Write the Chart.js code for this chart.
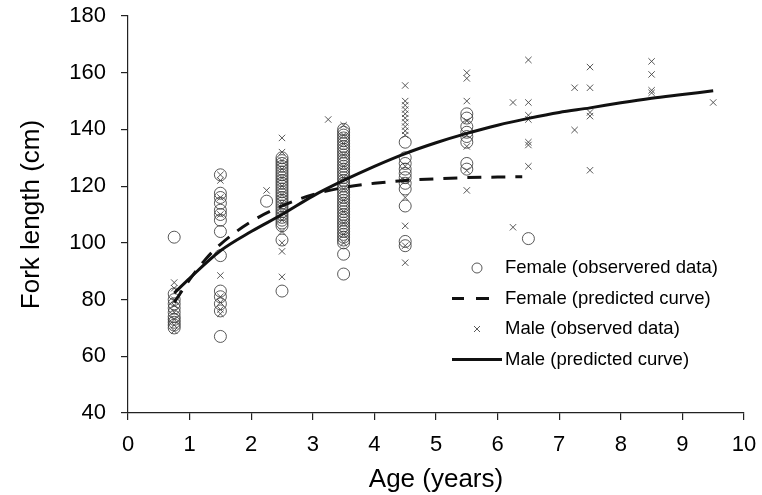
<!DOCTYPE html>
<html>
<head>
<meta charset="utf-8">
<script src="https://cdn.jsdelivr.net/npm/chart.js@4.4.0/dist/chart.umd.min.js"></script>
<style>
  html, body { margin: 0; padding: 0; background: #fff; }
  #wrap { width: 762px; height: 495px; }
</style>
</head>
<body>
<div id="wrap"><canvas id="c" width="762" height="495"></canvas></div>
<script>
// ---- Data ----
const xTicks = [0, 1, 2, 3, 4, 5, 6, 7, 8, 9, 10];
const yTicks = [40, 60, 80, 100, 120, 140, 160, 180];

const seriesLabels = [
  'Female (observered data)',
  'Female (predicted curve)',
  'Male (observed data)',
  'Male (predicted curve)'
];

// Female observed (age, fork length)
const femaleObsAge = [
  0.75,0.75,0.75,0.75,0.75,0.75,0.75,0.75,0.75,0.75,0.75,
  1.5,1.5,1.5,1.5,1.5,1.5,1.5,1.5,1.5,1.5,1.5,1.5,1.5,1.5,
  2.25,
  2.5,2.5,2.5,2.5,2.5,2.5,2.5,2.5,2.5,2.5,2.5,2.5,2.5,2.5,2.5,2.5,2.5,2.5,2.5,2.5,2.5,2.5,2.5,2.5,2.5,2.5,2.5,
  3.5,3.5,3.5,3.5,3.5,3.5,3.5,3.5,3.5,3.5,3.5,3.5,3.5,3.5,3.5,3.5,3.5,3.5,3.5,3.5,3.5,3.5,3.5,3.5,3.5,3.5,3.5,3.5,3.5,3.5,3.5,3.5,3.5,3.5,3.5,3.5,3.5,3.5,3.5,3.5,3.5,3.5,3.5,
  4.5,4.5,4.5,4.5,4.5,4.5,4.5,4.5,4.5,4.5,4.5,
  5.5,5.5,5.5,5.5,5.5,5.5,5.5,5.5,
  6.5
];
const femaleObsLen = [
  102,82,80,78.5,77,75.5,74,73,72,71,70,
  124,117.5,116,114,111.5,110,108,104,95.5,83,81,78.5,76,67,
  114.7,
  130,129,128,127,126,125,124,123,122,121,120,119,118,117,116,115,114,113,112,111,110,109,108,107,106,101,83,
  140,139,138,137,136,135,134,133,132,131,130,129,128,127,126,125,124,123,122,121,120,119,118,117,116,115,114,113,112,111,110,109,108,107,106,105,104,103,102,101,100,96,89,
  135.5,130,128,126,124.5,123,121,119,113,100.5,99,
  145.5,144,141,139,137.5,135.5,128,126,
  101.5
];

// Male observed (age, fork length)
const maleObsAge = [
  0.75,0.75,0.75,0.75,0.75,0.75,0.75,0.75,
  1.5,1.5,1.5,1.5,1.5,1.5,1.5,1.5,1.5,
  2.25,
  2.5,2.5,2.5,2.5,2.5,2.5,2.5,2.5,2.5,2.5,2.5,2.5,2.5,2.5,
  3.25,
  3.5,3.5,3.5,3.5,3.5,3.5,3.5,3.5,3.5,3.5,3.5,3.5,
  4.5,4.5,4.5,4.5,4.5,4.5,4.5,4.5,4.5,4.5,4.5,4.5,4.5,4.5,4.5,4.5,
  5.5,5.5,5.5,5.5,5.5,5.5,5.5,5.5,
  6.25,6.25,
  6.5,6.5,6.5,6.5,6.5,6.5,6.5,
  7.25,7.25,
  7.5,7.5,7.5,7.5,7.5,
  8.5,8.5,8.5,8.5,
  9.5
];
const maleObsLen = [
  86,84,80,78,75.5,73,71,69,
  124,122,116,110,88.5,81,79,76.5,75,
  118.5,
  137,132,129,126,123,120,117,114,111,108,104,100,97,88,
  143.5,
  141.5,138,135,131,127,123,119,115,111,107,103,100,
  155.5,150,148.5,147,145.5,144,142.5,141,139.5,138,127,122,116,106,99,93,
  160,158,150,143,138,134,125.5,118.5,
  149.5,105.5,
  164.5,149.5,145,143.5,135.5,134.5,127,
  154.7,139.8,
  162,154.7,146,144.7,125.6,
  164,159.4,153.8,152.9,
  149.5
];

// Predicted curves
const femaleCurveAge = [0.75, 1.0, 1.25, 1.5, 2.0, 2.5, 3.0, 3.5, 4.0, 4.5, 5.0, 5.5, 6.0, 6.4];
const femaleCurveLen = [79, 87, 94, 99.5, 107.5, 113, 117, 119.5, 121, 122, 122.6, 123, 123.2, 123.3];
const maleCurveAge = [0.75, 1.0, 1.5, 2.0, 2.5, 3.0, 3.5, 4.0, 4.5, 5.0, 5.5, 6.0, 6.5, 7.0, 7.5, 8.0, 8.5, 9.0, 9.5];
const maleCurveLen = [82.3, 87.5, 97.2, 104, 110, 116.5, 122, 127, 131.5, 135.3, 138.6, 141.5, 143.9, 146, 147.6, 149.4, 151, 152.3, 153.6];

// ---- Build datasets ----
const pts = (xs, ys) => xs.map((x, i) => ({ x: x, y: ys[i] }));

const datasets = [
  {
    label: seriesLabels[0],
    data: pts(femaleObsAge, femaleObsLen),
    showLine: false,
    pointStyle: 'circle',
    pointRadius: 6,
    pointBorderWidth: 1,
    pointBorderColor: 'rgba(60,60,60,0.85)',
    pointBackgroundColor: 'rgba(0,0,0,0)',
    order: 2,
    legendKind: 'circle'
  },
  {
    label: seriesLabels[1],
    data: pts(femaleCurveAge, femaleCurveLen),
    showLine: true,
    borderColor: '#111',
    borderWidth: 3,
    borderDash: [14, 10],
    pointRadius: 0,
    cubicInterpolationMode: 'monotone',
    order: 0,
    legendKind: 'dash'
  },
  {
    label: seriesLabels[2],
    data: pts(maleObsAge, maleObsLen),
    showLine: false,
    pointStyle: 'crossRot',
    pointRadius: 4.5,
    pointBorderWidth: 1,
    pointBorderColor: 'rgba(70,70,70,0.9)',
    pointBackgroundColor: 'rgba(0,0,0,0)',
    order: 1,
    legendKind: 'cross'
  },
  {
    label: seriesLabels[3],
    data: pts(maleCurveAge, maleCurveLen),
    showLine: true,
    borderColor: '#111',
    borderWidth: 3,
    pointRadius: 0,
    cubicInterpolationMode: 'monotone',
    order: 0,
    legendKind: 'solid'
  }
];

// ---- Custom in-plot legend ----
const inPlotLegend = {
  id: 'inPlotLegend',
  afterDraw(chart) {
    const ctx = chart.ctx;
    const ca = chart.chartArea;
    const symL = ca.left + 324;   // start of line symbols
    const symC = ca.left + 349;   // centre of marker symbols
    const textX = ca.left + 377;
    const rows = [ca.top + 252, ca.top + 282.5, ca.top + 313, ca.top + 343.5];
    ctx.save();
    ctx.font = '18.5px "Liberation Sans", Arial, sans-serif';
    ctx.fillStyle = '#000';
    ctx.textBaseline = 'middle';
    ctx.textAlign = 'left';
    chart.data.datasets.forEach((ds, i) => {
      const y = rows[i];
      ctx.save();
      if (ds.legendKind === 'circle') {
        ctx.strokeStyle = ds.pointBorderColor;
        ctx.lineWidth = 1;
        ctx.beginPath();
        ctx.arc(symC, y, 5, 0, Math.PI * 2);
        ctx.stroke();
      } else if (ds.legendKind === 'cross') {
        ctx.strokeStyle = ds.pointBorderColor;
        ctx.lineWidth = 1;
        const d = 3;
        ctx.beginPath();
        ctx.moveTo(symC - d, y - d); ctx.lineTo(symC + d, y + d);
        ctx.moveTo(symC + d, y - d); ctx.lineTo(symC - d, y + d);
        ctx.stroke();
      } else if (ds.legendKind === 'dash') {
        ctx.strokeStyle = ds.borderColor;
        ctx.lineWidth = 3;
        ctx.beginPath();
        ctx.moveTo(symL, y); ctx.lineTo(symL + 12, y);
        ctx.moveTo(symL + 24, y); ctx.lineTo(symL + 37, y);
        ctx.stroke();
      } else if (ds.legendKind === 'solid') {
        ctx.strokeStyle = ds.borderColor;
        ctx.lineWidth = 3;
        ctx.beginPath();
        ctx.moveTo(symL, y); ctx.lineTo(symL + 50, y);
        ctx.stroke();
      }
      ctx.restore();
      ctx.fillText(ds.label, textX, y);
    });
    ctx.restore();
  }
};

const tickFont = { family: '"Liberation Sans", Arial, sans-serif', size: 22 };
const titleFont = { family: '"Liberation Sans", Arial, sans-serif', size: 26 };

new Chart(document.getElementById('c'), {
  type: 'scatter',
  data: { datasets: datasets },
  options: {
    responsive: false,
    animation: false,
    devicePixelRatio: 1,
    layout: { padding: { left: 0, top: 16, right: 18, bottom: 0 } },
    plugins: {
      legend: { display: false },
      tooltip: { enabled: false }
    },
    scales: {
      x: {
        type: 'linear',
        min: xTicks[0],
        max: xTicks[xTicks.length - 1],
        afterBuildTicks: (s) => { s.ticks = xTicks.map(v => ({ value: v })); },
        afterFit: (s) => { s.height = 82; s.paddingLeft = 0; s.paddingRight = 0; },
        grid: { drawOnChartArea: false, drawTicks: true, tickLength: 7, color: '#222', lineWidth: 1.2 },
        border: { display: true, color: '#222', width: 1.2 },
        ticks: { color: '#000', font: tickFont, padding: 12, maxRotation: 0 },
        title: { display: true, text: 'Age (years)', color: '#000', font: titleFont, padding: { top: 0, bottom: 0 } }
      },
      y: {
        type: 'linear',
        min: yTicks[0],
        max: yTicks[yTicks.length - 1],
        afterBuildTicks: (s) => { s.ticks = yTicks.map(v => ({ value: v })); },
        afterFit: (s) => { s.width = 128; s.paddingTop = 0; s.paddingBottom = 0; },
        grid: { drawOnChartArea: false, drawTicks: true, tickLength: 7, color: '#222', lineWidth: 1.2 },
        border: { display: true, color: '#222', width: 1.2 },
        ticks: { color: '#000', font: tickFont, padding: 15 },
        title: { display: true, text: 'Fork length (cm)', color: '#000', font: titleFont, padding: { top: 16, bottom: 0 } }
      }
    }
  },
  plugins: [inPlotLegend]
});
</script>
</body>
</html>
